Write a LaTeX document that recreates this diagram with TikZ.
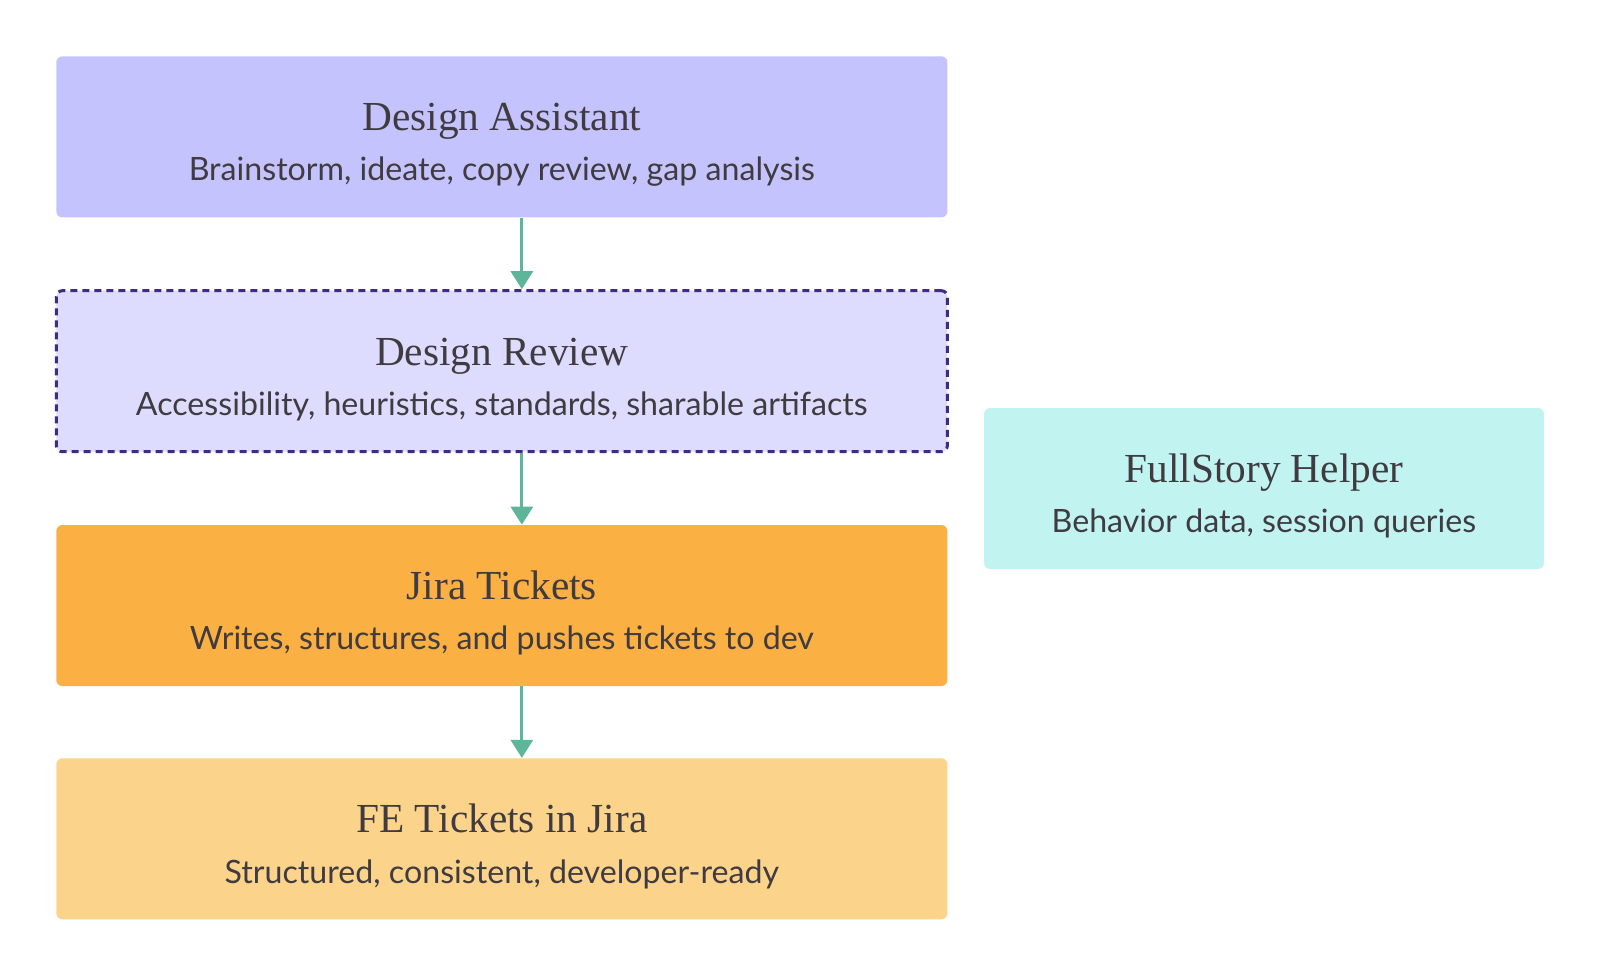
\documentclass[tikz,border=0pt]{standalone}
\usepackage{fontspec}
\setmainfont{Liberation Serif}
\newfontfamily\subfont{Lato}
\usepackage{xcolor}
\usetikzlibrary{arrows.meta,positioning}

\definecolor{ink}{HTML}{3F3B40}
\definecolor{assistfill}{HTML}{C5C3FD}
\definecolor{reviewfill}{HTML}{DDDCFE}
\definecolor{reviewline}{HTML}{3F2A84}
\definecolor{jirafill}{HTML}{FAB042}
\definecolor{fefill}{HTML}{FCD38A}
\definecolor{fsfill}{HTML}{C1F4F0}
\definecolor{flow}{HTML}{5DB59A}

\newcommand{\headline}[1]{{\rule{0pt}{25pt}\fontsize{23.5}{28.5}\selectfont #1}}
\newcommand{\subline}[1]{{\subfont\fontsize{18.3}{28.5}\selectfont #1}}

\begin{document}
\begin{tikzpicture}[
    node distance=1.43cm,
    card/.style={rectangle, rounded corners=0.12cm, align=center, minimum width=17.82cm, minimum height=3.22cm, inner sep=0pt, text=ink, font=\fontsize{18}{28.5}\selectfont},
    dashcard/.style={card, draw=reviewline, line width=0.06cm, dash pattern=on 0.14cm off 0.1cm},
    arr/.style={-{Triangle[width=0.44cm, length=0.36cm]}, line width=0.06cm, draw=flow}
]
    \useasboundingbox (0,0) rectangle (32,-19.6);

    \node [card, fill=assistfill, anchor=north west] (assist) at (1.12,-1.12) {\headline{Design Assistant}\\\subline{Brainstorm, ideate, copy review, gap analysis}};
    \node [dashcard, fill=reviewfill, below=of assist] (review) {\headline{Design Review}\\\subline{Accessibility, heuristics, standards, sharable artifacts}};
    \node [card, fill=jirafill, below=of review] (jira) {\headline{Jira Tickets}\\\subline{Writes, structures, and pushes tickets to dev}};
    \node [card, fill=fefill, below=of jira] (fe) {\headline{FE Tickets in Jira}\\\subline{Structured, consistent, developer-ready}};
    \node [card, fill=fsfill, minimum width=11.2cm] (fs) at (25.28,-9.77) {\headline{FullStory Helper}\\\subline{Behavior data, session queries}};

    \draw [arr] ([xshift=0.4cm]assist.south) -- ([xshift=0.4cm]review.north);
    \draw [arr] ([xshift=0.4cm]review.south) -- ([xshift=0.4cm]jira.north);
    \draw [arr] ([xshift=0.4cm]jira.south) -- ([xshift=0.4cm]fe.north);
\end{tikzpicture}
\end{document}
